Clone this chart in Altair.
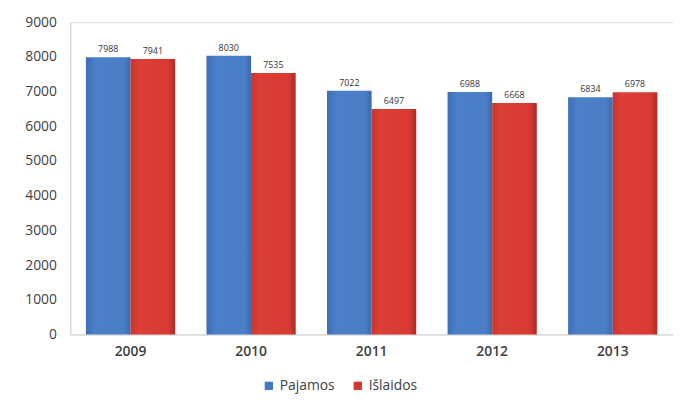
import altair as alt
import pandas as pd

years = ["2009", "2010", "2011", "2012", "2013"]
pajamos = [7988, 8030, 7022, 6988, 6834]
islaidos = [7941, 7535, 6497, 6668, 6978]
series = ["Pajamos", "Išlaidos"]
colors = ["#4677C0", "#D2362F"]

rows = []
for i, y in enumerate(years):
    rows.append({"year": y, "series": series[0], "value": pajamos[i]})
    rows.append({"year": y, "series": series[1], "value": islaidos[i]})
df = pd.DataFrame(rows)

FONT = "Open Sans"

x = alt.X("year:N", sort=years, title=None,
          scale=alt.Scale(paddingInner=0.26, paddingOuter=0.13),
          axis=alt.Axis(labelAngle=0, labelFontSize=14, labelFontWeight=600,
                        labelColor="#404040", labelFont=FONT, ticks=False,
                        labelPadding=10, domainColor="#d0d0d0"))
xo = alt.XOffset("series:N", sort=series, scale=alt.Scale(domain=series))
y = alt.Y("value:Q", title=None,
          scale=alt.Scale(domain=[0, 9000], nice=False),
          axis=alt.Axis(values=list(range(0, 9001, 1000)), grid=False, ticks=False,
                        format="d",
                        labelFontSize=14, labelColor="#404040", labelFont=FONT,
                        labelPadding=14, domainColor="#d0d0d0"))

grad_blue = alt.LinearGradient(
    gradient="linear", x1=0, x2=1, y1=0, y2=0,
    stops=[alt.GradientStop(color="#3d6db6", offset=0),
           alt.GradientStop(color="#4a80c9", offset=0.2),
           alt.GradientStop(color="#4a7ec6", offset=0.85),
           alt.GradientStop(color="#3b69ae", offset=1)])
grad_red = alt.LinearGradient(
    gradient="linear", x1=0, x2=1, y1=0, y2=0,
    stops=[alt.GradientStop(color="#c9342e", offset=0),
           alt.GradientStop(color="#dc3f37", offset=0.2),
           alt.GradientStop(color="#d83a31", offset=0.85),
           alt.GradientStop(color="#ab2b27", offset=1)])

base = alt.Chart(df)

bars_blue = base.transform_filter(alt.datum.series == series[0]).mark_bar(
    color=grad_blue).encode(x=x, xOffset=xo, y=y)
bars_red = base.transform_filter(alt.datum.series == series[1]).mark_bar(
    color=grad_red).encode(x=x, xOffset=xo, y=y)

legend_layer = base.mark_bar().encode(
    x=x, xOffset=xo,
    y=alt.value(316), y2=alt.value(316),
    color=alt.Color("series:N", sort=series,
                    scale=alt.Scale(domain=series, range=colors),
                    legend=alt.Legend(title=None, orient="none", direction="horizontal",
                                      legendX=194, legendY=361, symbolType="square",
                                      symbolSize=70, symbolStrokeWidth=0,
                                      labelFontSize=14, labelFont=FONT,
                                      labelColor="#404040", columnPadding=16)),
)

labels = base.mark_text(dy=-8, fontSize=9, color="#333333", font=FONT).encode(
    x=x, xOffset=xo, y=y, text="value:Q"
)

chart = alt.layer(bars_blue, bars_red, legend_layer, labels).properties(
    width=610, height=316,
    autosize=alt.AutoSizeParams(type="none"),
    padding={"left": 63, "top": 12, "right": 0, "bottom": 68},
).configure_view(stroke=None).configure(background="white")

chart.save("out.html", embed_options={"renderer": "svg", "actions": False})
